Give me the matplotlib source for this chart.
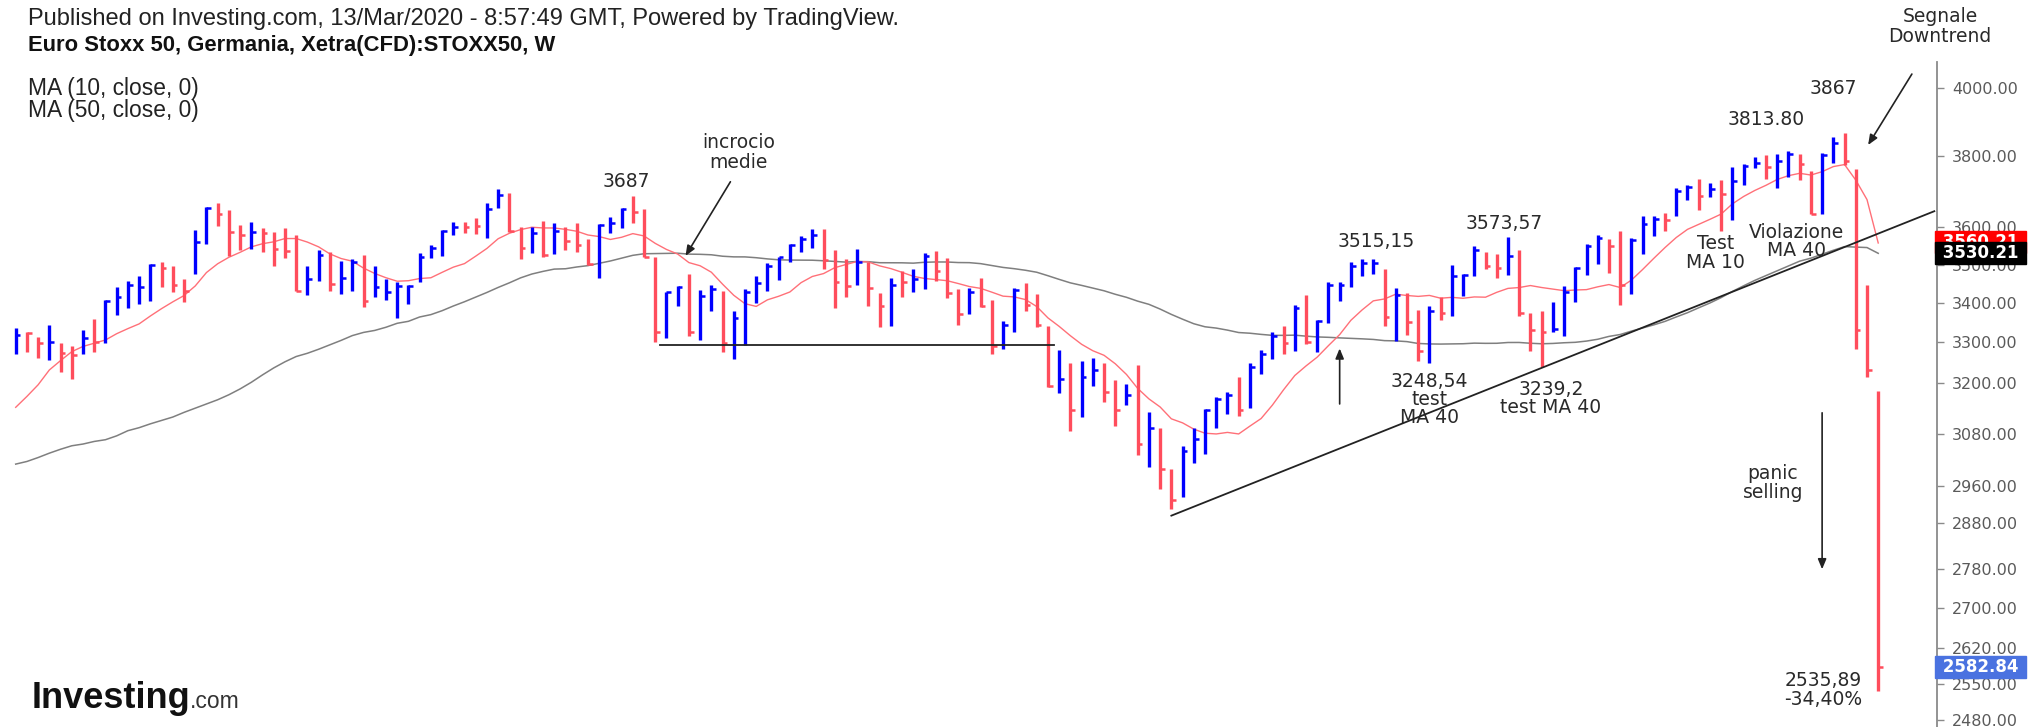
import numpy as np
import matplotlib
matplotlib.use("Agg")
import matplotlib.pyplot as plt
from matplotlib.ticker import NullLocator, FixedLocator, FuncFormatter
from matplotlib.transforms import blended_transform_factory

# ---------------- data (weekly HLC bars, Euro Stoxx 50) ----------------
highs = [3336, 3326, 3314, 3343, 3298, 3290, 3331, 3358, 3408, 3441,
         3457, 3471, 3501, 3508, 3497, 3461, 3593, 3655, 3666, 3647,
         3606, 3615, 3597, 3587, 3597, 3579, 3495, 3539, 3534, 3510,
         3515, 3525, 3497, 3463, 3455, 3447, 3531, 3552, 3593, 3614,
         3615, 3624, 3667, 3705, 3695, 3600, 3600, 3618, 3611, 3600,
         3611, 3568, 3609, 3629, 3652, 3687, 3650, 3520, 3429, 3444,
         3475, 3434, 3447, 3432, 3378, 3436, 3469, 3505, 3521, 3555,
         3575, 3594, 3594, 3539, 3514, 3541, 3508, 3425, 3465, 3482,
         3488, 3530, 3536, 3517, 3436, 3438, 3465, 3408, 3354, 3438,
         3451, 3423, 3340, 3281, 3249, 3253, 3262, 3250, 3208, 3198,
         3244, 3130, 3093, 2999, 3052, 3093, 3138, 3166, 3179, 3215,
         3249, 3281, 3327, 3340, 3395, 3421, 3357, 3453, 3455, 3508,
         3515, 3515.15, 3488, 3438, 3425, 3382, 3391, 3416, 3499, 3475,
         3549, 3534, 3528, 3573.57, 3539, 3374, 3380, 3403, 3444, 3493,
         3555, 3578, 3568, 3590, 3572, 3630, 3630, 3640, 3708, 3718,
         3733, 3722, 3730, 3768, 3776, 3797, 3802, 3806, 3813.8, 3806,
         3756, 3808, 3853, 3867, 3762, 3446, 3180]
lows = [3270, 3277, 3262, 3257, 3227, 3211, 3271, 3276, 3298, 3369,
        3388, 3398, 3405, 3442, 3429, 3403, 3475, 3555, 3604, 3523,
        3539, 3542, 3534, 3497, 3517, 3431, 3421, 3457, 3431, 3424,
        3431, 3390, 3416, 3408, 3361, 3398, 3453, 3517, 3524, 3579,
        3584, 3582, 3571, 3652, 3588, 3514, 3532, 3521, 3528, 3539,
        3533, 3499, 3465, 3584, 3599, 3611, 3519, 3302, 3311, 3391,
        3315, 3306, 3380, 3275, 3259, 3294, 3401, 3432, 3460, 3508,
        3534, 3545, 3489, 3388, 3416, 3447, 3391, 3338, 3342, 3414,
        3427, 3436, 3457, 3412, 3344, 3371, 3389, 3272, 3283, 3327,
        3378, 3338, 3190, 3177, 3086, 3120, 3192, 3155, 3097, 3148,
        3031, 3004, 2954, 2909, 2936, 3012, 3033, 3093, 3126, 3122,
        3141, 3223, 3260, 3272, 3279, 3296, 3277, 3349, 3406, 3441,
        3471, 3475, 3342, 3304, 3319, 3255, 3248.54, 3357, 3366, 3419,
        3471, 3488, 3465, 3473, 3366, 3279, 3239.2, 3327, 3316, 3403,
        3473, 3502, 3479, 3395, 3423, 3528, 3575, 3590, 3630, 3674,
        3646, 3682, 3590, 3621, 3718, 3765, 3733, 3708, 3739, 3731,
        3637, 3635, 3779, 3773, 3284, 3216, 2535.89]
closes = [3319, 3323, 3299, 3302, 3273, 3269, 3310, 3302, 3405, 3416,
          3447, 3442, 3499, 3490, 3447, 3431, 3559, 3653, 3637, 3588,
          3579, 3588, 3584, 3541, 3535, 3431, 3463, 3525, 3449, 3465,
          3508, 3406, 3442, 3429, 3444, 3444, 3520, 3545, 3591, 3602,
          3602, 3604, 3649, 3689, 3591, 3544, 3584, 3526, 3590, 3564,
          3552, 3502, 3606, 3611, 3650, 3643, 3521, 3326, 3427, 3441,
          3325, 3418, 3436, 3298, 3361, 3427, 3451, 3495, 3519, 3552,
          3568, 3579, 3512, 3453, 3445, 3508, 3438, 3391, 3447, 3454,
          3463, 3523, 3482, 3425, 3371, 3429, 3391, 3292, 3344, 3434,
          3395, 3344, 3192, 3210, 3136, 3215, 3231, 3179, 3136, 3172,
          3057, 3093, 2999, 2930, 3041, 3068, 3136, 3162, 3172, 3136,
          3240, 3271, 3315, 3298, 3386, 3302, 3353, 3447, 3447, 3497,
          3504, 3504, 3364, 3421, 3352, 3279, 3378, 3375, 3469, 3473,
          3539, 3497, 3490, 3523, 3374, 3331, 3327, 3333, 3429, 3490,
          3549, 3570, 3549, 3446, 3566, 3610, 3623, 3621, 3699, 3710,
          3686, 3707, 3693, 3727, 3771, 3779, 3768, 3785, 3806, 3777,
          3637, 3802, 3838, 3785, 3330, 3233, 2582.84]
# bar colour as shown: b = blue (up bar), r = red (down bar)
bar_dirs = ("brrbrrbrbb" "bbbrrrbbrr" "rbrrrrbbrb" "brbbbbbbbb" "rrbbrrbrbr"
            "rrbbbrrrbb" "rbbrbbbbbb" "bbrrrbrrbr" "bbrrrbrrbb" "rrrbrbbrrb"
            "rbrrbbbbbr" "bbbrbrbbbb" "bbrbrrbrbb" "brrbrrrbbb" "bbrrbbbrbb"
            "rbrbbbrbbr" "rbbrrrr")
ma10_start = [3142, 3168, 3196, 3232, 3255, 3277, 3290, 3298, 3306]
ma50_start = [3010, 3016, 3025, 3035, 3044, 3052, 3056, 3062, 3066, 3075,
              3087, 3094, 3103, 3111, 3119, 3130, 3140, 3150, 3160, 3172,
              3186, 3202, 3220, 3237, 3252, 3265, 3273, 3283, 3294, 3305,
              3317, 3325, 3330, 3338, 3348, 3353, 3364, 3370, 3380, 3392,
              3403, 3415, 3427, 3440, 3452, 3465, 3475, 3482, 3488]
ma10_label = "3560.21"
ma50_label = "3530.21"
ma10_last, ma50_last = 3560.21, 3530.21
y_ticks = [2480, 2550, 2620, 2700, 2780, 2880, 2960, 3080, 3200, 3300,
           3400, 3500, 3600, 3800, 4000]

# ---------------- derived ----------------
n = len(closes)
idx = np.arange(n)
c = np.array(closes, dtype=float)
ma10 = np.array(ma10_start + [c[i - 9:i + 1].mean() for i in range(9, n)])
ma50 = np.array(ma50_start + [c[i - 49:i + 1].mean() for i in range(49, n)])

BLUE = "#0000ff"
RED = "#ff4d5c"
cols = [BLUE if d == "b" else RED for d in bar_dirs]

W, H = 2034, 727
fig = plt.figure(figsize=(W / 100, H / 100), dpi=100)
fig.patch.set_facecolor("white")
ax = fig.add_axes([0, 0, 1937 / W, 1 - 62 / H])
ax.set_yscale("log")
ax.set_xlim(-15.7 / 11.22, (1937 - 15.7) / 11.22)
ax.set_ylim(2467.6, 4079)

ax.plot(idx, ma50, color="#7f7f7f", lw=1.1, zorder=2)
ax.plot(idx, ma10, color="#ff7078", lw=1.0, zorder=2)
ax.vlines(idx, lows, highs, colors=cols, lw=2.4, zorder=3)
ax.hlines(closes, idx, idx + 0.42, colors=cols, lw=1.8, zorder=3)

# drawn lines
LC = "#222222"
ax.plot([57.4, 92.5], [3294, 3294], color=LC, lw=1.3, zorder=4)
ax.plot([103.0, 171.0], [2895, 3644], color=LC, lw=1.3, zorder=4)

arw = dict(arrowstyle="-|>,head_length=0.6,head_width=0.25", color=LC, lw=1.2,
           shrinkA=0, shrinkB=0)
ax.annotate("", xy=(59.7, 3523), xytext=(63.7, 3726), arrowprops=arw)
ax.annotate("", xy=(118.0, 3285), xytext=(118.0, 3150), arrowprops=arw)
ax.annotate("", xy=(161.0, 2780), xytext=(161.0, 3129), arrowprops=arw)
ax.annotate("", xy=(165.1, 3831), xytext=(169.0, 4042), arrowprops=arw,
            annotation_clip=False)

TF = dict(ha="center", va="center", fontsize=13.5, color="#2a2a2a",
          family="DejaVu Sans")
for s, x, y in [("3687", 54.45, 3726), ("incrocio", 64.4, 3837),
                ("medie", 64.4, 3782), ("3515,15", 121.3, 3561),
                ("3573,57", 132.7, 3611), ("3248,54", 126.0, 3204),
                ("test", 126.0, 3160), ("MA 40", 126.0, 3118),
                ("3239,2", 136.9, 3185), ("test MA 40", 136.8, 3141),
                ("3813.80", 156.0, 3906), ("3867", 162.0, 3999),
                ("Test", 151.5, 3556), ("MA 10", 151.5, 3505),
                ("Violazione", 158.7, 3587), ("MA 40", 158.7, 3538),
                ("panic", 156.6, 2988), ("selling", 156.6, 2947),
                ("2535,89", 161.1, 2556), ("-34,40%", 161.1, 2520)]:
    ax.text(x, y, s, **TF)

# right price axis
for sp in ["left", "top", "bottom"]:
    ax.spines[sp].set_visible(False)
ax.spines["right"].set_color("#8a8a8a")
ax.spines["right"].set_linewidth(1.3)
ax.xaxis.set_major_locator(NullLocator())
ax.xaxis.set_minor_locator(NullLocator())
ax.yaxis.tick_right()
ax.yaxis.set_major_locator(FixedLocator(y_ticks))
ax.yaxis.set_minor_locator(NullLocator())
ax.yaxis.set_major_formatter(FuncFormatter(lambda v, p: f"{v:.2f}"))
ax.tick_params(axis="y", which="major", length=5, width=1, color="#8a8a8a",
               labelcolor="#5a5a5a", labelsize=11.5, pad=6)
for lab in ax.get_yticklabels():
    lab.set_family("DejaVu Sans")

btr = blended_transform_factory(ax.transAxes, ax.transData)
for txt, yv, bg in [(ma10_label, ma10_last, "#ff0000"),
                    (ma50_label, ma50_last, "#000000"),
                    (f"{closes[-1]:.2f}", closes[-1], "#4a72e0")]:
    ax.text(1.0, yv, " " + txt + " ", transform=btr, ha="left", va="center",
            fontsize=12, color="white", family="DejaVu Sans", weight="bold",
            bbox=dict(boxstyle="square,pad=0.12", fc=bg, ec=bg), zorder=10,
            clip_on=False)

# header / legend texts
fig.text(28 / W, 1 - 19 / H,
         "Published on Investing.com, 13/Mar/2020 - 8:57:49 GMT, Powered by TradingView.",
         ha="left", va="center", fontsize=17, color="#222", family="Liberation Sans")
fig.text(28 / W, 1 - 46 / H, "Euro Stoxx 50, Germania, Xetra(CFD):STOXX50, W",
         ha="left", va="center", fontsize=15.8, color="#111", weight="bold",
         family="Liberation Sans")
fig.text(28 / W, 1 - 88 / H, "MA (10, close, 0)", ha="left", va="center",
         fontsize=16.4, color="#222", family="Liberation Sans")
fig.text(28 / W, 1 - 110 / H, "MA (50, close, 0)", ha="left", va="center",
         fontsize=16.4, color="#222", family="Liberation Sans")
fig.text(1940 / W, 1 - 16 / H, "Segnale", ha="center", va="center",
         fontsize=13.5, color="#2a2a2a", family="DejaVu Sans")
fig.text(1940 / W, 1 - 37 / H, "Downtrend", ha="center", va="center",
         fontsize=13.5, color="#2a2a2a", family="DejaVu Sans")

# logo
t1 = fig.text(32 / W, 1 - 699 / H, "Investing", ha="left", va="center",
              fontsize=26, weight="bold", color="#111", family="Liberation Sans")
fig.canvas.draw()
bb = t1.get_window_extent()
fig.text(bb.x1 / W - 0.0005, 1 - 702 / H, ".com", ha="left", va="center",
         fontsize=16.5, color="#333", family="Liberation Sans")

fig.savefig("out.png", dpi=100, facecolor="white")
